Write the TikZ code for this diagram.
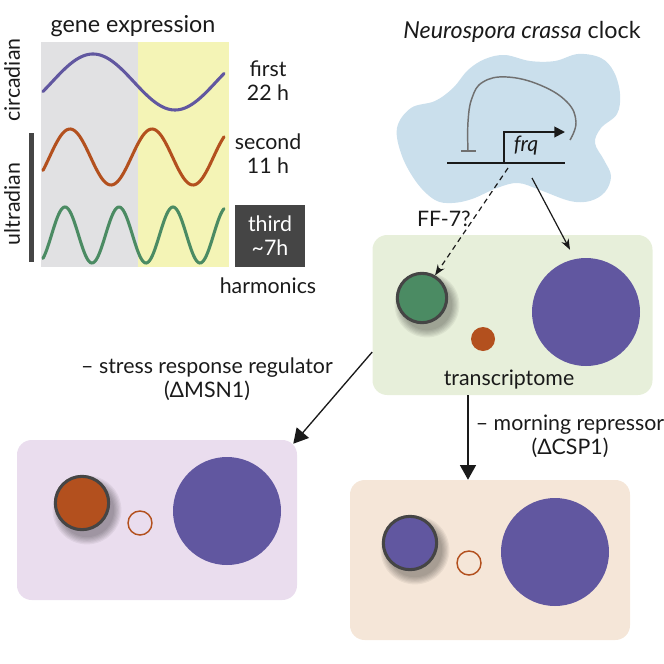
\documentclass[tikz,border=0pt]{standalone}
\usepackage{fontspec}
\setmainfont{Lato}
\usetikzlibrary{positioning,arrows.meta,calc}
\definecolor{ink}{HTML}{1A1A1A}
\definecolor{rimgray}{HTML}{454545}
\definecolor{dayshade}{HTML}{E1E1E3}
\definecolor{nightshade}{HTML}{F4F4B6}
\definecolor{clockpurple}{HTML}{6157A0}
\definecolor{clockorange}{HTML}{B3501E}
\definecolor{clockgreen}{HTML}{4B8B63}
\definecolor{blobblue}{HTML}{CADFEC}
\definecolor{tgreen}{HTML}{E7EFDA}
\definecolor{tpink}{HTML}{EADDEE}
\definecolor{tpeach}{HTML}{F5E6D8}
\definecolor{repgray}{HTML}{707070}

\begin{document}
\begin{tikzpicture}[
      x=0.75pt, y=-0.75pt,
      lbl/.style={font=\fontsize{16}{18}\selectfont, text=ink, align=center, inner sep=0pt},
      heading/.style={lbl, font=\fontsize{17.5}{20}\selectfont},
      panel/.style={rounded corners=11pt, minimum width=210pt,
                    minimum height=120pt, inner sep=0pt},
      wave/.style={line width=2.3pt, line cap=round},
      rim/.style={circle, draw=rimgray, line width=2.3pt, minimum size=40pt, inner sep=0pt},
      blob/.style={circle, fill=clockpurple, minimum size=81pt, inner sep=0pt},
      dot/.style={circle, minimum size=18pt, inner sep=0pt},
      link/.style={-{Stealth[length=8pt,width=6pt]}, line width=0.9pt, color=ink},
      bigtip/.style={-{Triangle[length=11pt,width=12pt]}, line width=1pt, color=ink},
      pics/haze/.style={code={\foreach \k in {1,...,7}
        \fill[black, opacity=0.05] (5,7) circle [radius={(#1+0.9*\k)*1pt}];}},
    ]
      \useasboundingbox (0,0) rectangle (664,664);

      % harmonics panel
      \fill[dayshade] (41,42) rectangle (138,267);
      \fill[nightshade] (138,42) rectangle (229,267);
      \draw[wave, clockpurple] plot[domain=43:224, samples=90]
        (\x, {82-28*cos((\x-93)*2.19512)});
      \draw[wave, clockorange] plot[domain=43:224, samples=120]
        (\x, {157-28*cos((\x-70)*4.39024)});
      \draw[wave, clockgreen] plot[domain=43:224, samples=150]
        (\x, {235-28*cos((\x-65)*6.66667)});
      \fill[rimgray] (29,133) rectangle (34,262);

      \node[heading] (genex) at (133,26) {gene expression};
      \node[lbl, rotate=90] (circ) at (12,80) {circadian};
      \node[lbl, rotate=90] (ultra) at (12,204) {ultradian};
      \node[lbl] (first) at (268,81) {first\\22 h};
      \node[lbl] (second) at (268,154) {second\\11 h};
      \node[lbl, fill=rimgray, text=white, minimum width=52.5pt, minimum height=46.5pt]
        (third) at (270,236) {third\\{\textasciitilde}7h};
      \node[lbl] (harm) at (268,286) {harmonics};

      % clock
      \node[heading] (clocktitle) at (522,32) {\textit{Neurospora crassa} clock};
      \fill[blobblue] plot[smooth cycle, tension=0.6] coordinates {
        (397,128) (402,156) (417,183) (435,200) (452,203) (472,199) (497,188)
        (518,183) (540,190) (570,201) (590,201) (605,192) (611,176) (604,160)
        (595,143) (601,128) (617,114) (620,94) (614,72) (601,58) (578,54)
        (555,61) (530,61) (505,55) (485,59) (468,70) (453,88) (435,101)
        (411,108)};
      \draw[repgray, line width=1.1pt] plot[smooth, tension=0.7] coordinates {
        (570,140) (576,122) (567,102) (540,85) (507,77) (483,82) (472,98)
        (468,122) (468,151)};
      \draw[repgray, line width=1.5pt] (461,151) -- (476,151);
      \coordinate (gstart) at (447,163);
      \coordinate (gend) at (565,163);
      \coordinate (tss) at (504,163);
      \draw[ink, line width=1.4pt] (gstart) -- (gend);
      \draw[ink, line width=1.4pt, -{Triangle[length=8pt,width=8pt]}]
        (tss) -- ++(0,-31) -- ++(61,0);
      \node[lbl, font=\fontsize{16}{18}\itshape] (frq) at (526,146) {frq};
      \coordinate (ffsrc) at (508,168);
      \coordinate (clk) at (532,178);

      % transcriptome
      \node[panel, fill=tgreen] (tbox) at (512.5,315) {};
      \pic at (422,298) {haze=18};
      \node[rim, fill=clockgreen, minimum size=37pt] (tfirst) at (422,298) {};
      \node[dot, fill=clockorange] (tsecond) at (483,339) {};
      \node[blob] (tbig) at (586,312) {};
      \node[lbl] (tlabel) at (509,380) {transcriptome};

      \draw[link, dashed, dash pattern=on 4pt off 3pt] (ffsrc) -- (tfirst.60);
      \node[lbl, anchor=east] (ff) at (471,219) {FF-7?};
      \draw[link] (clk) -- ($(tbig.north)+(-16,-8)$);

      % stress response knockout
      \node[panel, fill=tpink] (pbox) at (157,520) {};
      \pic at (82,503) {haze=19.5};
      \node[rim, fill=clockorange] (pfirst) at (82,503) {};
      \node[dot, draw=clockorange, line width=1.1pt] (psecond) at (140,523) {};
      \node[blob] (pbig) at (227,511) {};
      \draw[bigtip] ($(tbox.west)+(0,37)$) -- ($(pbox.north east)+(-4,4)$);
      \node[lbl] (msn) at (207,379) {-- stress response regulator\\(ΔMSN1)};

      % morning repressor knockout
      \node[panel, fill=tpeach] (mbox) at (490,560) {};
      \pic at (410,543) {haze=19.5};
      \node[rim, fill=clockpurple] (mfirst) at (410,543) {};
      \node[dot, draw=clockorange, line width=1.1pt] (msecond) at (469,563) {};
      \node[blob] (mbig) at (555,552) {};
      \draw[bigtip] ($(tbox.south)+(-44.5,0)$) -- ($(mbox.north)+(-22,0)$);
      \node[lbl] (csp) at (570,436) {-- morning repressor\\(ΔCSP1)};

    \end{tikzpicture}
\end{document}
